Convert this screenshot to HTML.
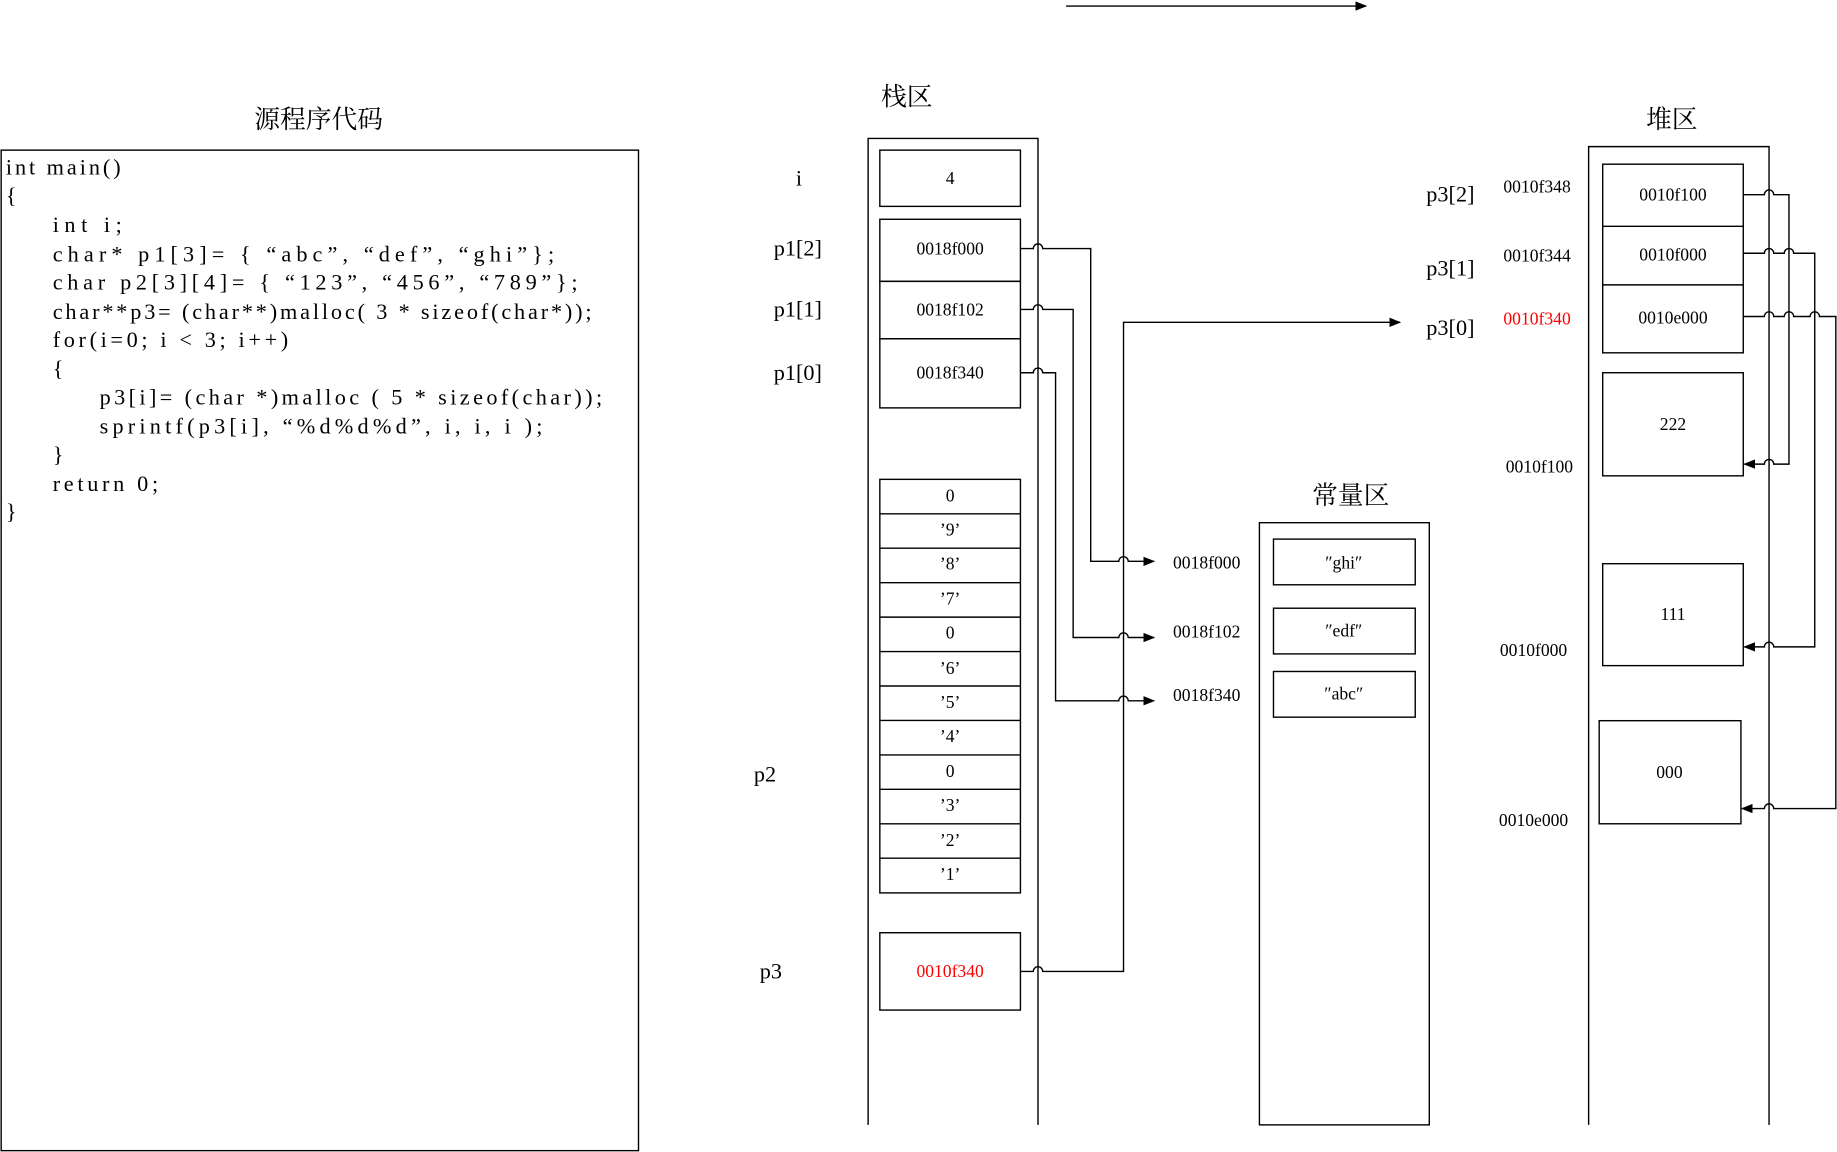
<!DOCTYPE html>
<html><head><meta charset="utf-8"><style>html,body{margin:0;padding:0;background:#fff}svg{display:block}</style></head>
<body>
<svg width="1837" height="1152" viewBox="0 0 1568 983" xmlns="http://www.w3.org/2000/svg" font-family="'Liberation Serif','Noto Serif CJK SC',serif">
<defs><marker id="a" markerWidth="10" markerHeight="8" refX="9" refY="4" orient="auto" markerUnits="userSpaceOnUse"><path d="M0,0 L10,4 L0,8Z" fill="#000"/></marker></defs>
<g fill="none" stroke="#000" stroke-width="1.2">
<line x1="910" y1="5" x2="1166" y2="5" marker-end="url(#a)"/>
<rect x="1" y="128" width="544" height="854"/>
<path d="M741,960 V118 H886 V960"/>
<rect x="751" y="128" width="120" height="48"/>
<rect x="751" y="187" width="120" height="53"/>
<rect x="751" y="240" width="120" height="49"/>
<rect x="751" y="289" width="120" height="59"/>
<rect x="751" y="409" width="120" height="353"/>
<path d="M751,438.4H871M751,467.8H871M751,497.2H871M751,526.6H871M751,556H871M751,585.4H871M751,614.8H871M751,644.2H871M751,673.6H871M751,703H871M751,732.4H871"/>
<rect x="751" y="796" width="120" height="66"/>
<rect x="1075" y="446" width="145" height="514"/>
<rect x="1087" y="460" width="121" height="39"/>
<rect x="1087" y="519" width="121" height="39"/>
<rect x="1087" y="573" width="121" height="39"/>
<path d="M1356,960 V125 H1510 V960"/>
<rect x="1368" y="140" width="120" height="161"/>
<path d="M1368,193H1488M1368,243H1488"/>
<rect x="1368" y="318" width="120" height="88"/>
<rect x="1368" y="481" width="120" height="87"/>
<rect x="1365" y="615" width="121" height="88"/>
<path d="M871,212 H882 a4,4 0 0 1 8,0 H931 V479 H955 a4,4 0 0 1 8,0 H985" marker-end="url(#a)"/>
<path d="M871,264 H882 a4,4 0 0 1 8,0 H916 V544 H955 a4,4 0 0 1 8,0 H985" marker-end="url(#a)"/>
<path d="M871,318 H882 a4,4 0 0 1 8,0 H901 V598 H955 a4,4 0 0 1 8,0 H985" marker-end="url(#a)"/>
<path d="M871,829 H882 a4,4 0 0 1 8,0 H959 V275 H1195" marker-end="url(#a)"/>
<path d="M1488,166 H1506 a4,4 0 0 1 8,0 H1527 V396 H1514 a4,4 0 0 0 -8,0 H1489" marker-end="url(#a)"/>
<path d="M1488,216 H1506 a4,4 0 0 1 8,0 H1523 a4,4 0 0 1 8,0 H1549 V552 H1514 a4,4 0 0 0 -8,0 H1489" marker-end="url(#a)"/>
<path d="M1488,270 H1506 a4,4 0 0 1 8,0 H1523 a4,4 0 0 1 8,0 H1545 a4,4 0 0 1 8,0 H1567 V690 H1514 a4,4 0 0 0 -8,0 H1487" marker-end="url(#a)"/>
</g>
<g font-size="22" text-anchor="middle" fill="#000">
<text x="272" y="109">源程序代码</text>
<text x="774" y="90">栈区</text>
<text x="1153" y="430">常量区</text>
<text x="1427" y="109">堆区</text>
</g>
<g font-size="19" fill="#000" xml:space="preserve" lengthAdjust="spacing">
<text x="5" y="149" textLength="98">int main()</text>
<text x="5" y="173">{</text>
<text x="45" y="198" textLength="59">int i;</text>
<text x="45" y="223" textLength="428">char* p1[3]= { “abc”, “def”, “ghi”};</text>
<text x="45" y="247" textLength="448">char p2[3][4]= { “123”, “456”, “789”};</text>
<text x="45" y="272" textLength="460">char**p3= (char**)malloc( 3 * sizeof(char*));</text>
<text x="45" y="296" textLength="201">for(i=0; i &lt; 3; i++)</text>
<text x="45" y="321">{</text>
<text x="85" y="345" textLength="429">p3[i]= (char *)malloc ( 5 * sizeof(char));</text>
<text x="85" y="370" textLength="378">sprintf(p3[i], “%d%d%d”, i, i, i );</text>
<text x="45" y="394">}</text>
<text x="45" y="419" textLength="90">return 0;</text>
<text x="5" y="443">}</text>
</g>
<g font-size="19" text-anchor="middle" fill="#000">
<text x="682" y="158">i</text>
<text x="681" y="218">p1[2]</text>
<text x="681" y="270">p1[1]</text>
<text x="681" y="324">p1[0]</text>
<text x="653" y="667">p2</text>
<text x="658" y="835">p3</text>
<text x="1238" y="172">p3[2]</text>
<text x="1238" y="235">p3[1]</text>
<text x="1238" y="286">p3[0]</text>
</g>
<g font-size="15" text-anchor="middle" fill="#000">
<text x="811" y="157">4</text>
<text x="811" y="217">0018f000</text>
<text x="811" y="269">0018f102</text>
<text x="811" y="323">0018f340</text>
<text x="811" y="428">0</text><text x="811" y="457">’9’</text><text x="811" y="486">’8’</text><text x="811" y="516">’7’</text>
<text x="811" y="545">0</text><text x="811" y="575">’6’</text><text x="811" y="604">’5’</text><text x="811" y="633">’4’</text>
<text x="811" y="663">0</text><text x="811" y="692">’3’</text><text x="811" y="722">’2’</text><text x="811" y="751">’1’</text>
<text x="811" y="834" fill="#f00">0010f340</text>
<text x="1030" y="485">0018f000</text>
<text x="1030" y="544">0018f102</text>
<text x="1030" y="598">0018f340</text>
<text x="1147" y="485">″ghi″</text>
<text x="1147" y="543">″edf″</text>
<text x="1147" y="597">″abc″</text>
<text x="1428" y="171">0010f100</text>
<text x="1428" y="222">0010f000</text>
<text x="1428" y="276">0010e000</text>
<text x="1428" y="367">222</text>
<text x="1428" y="529">111</text>
<text x="1425" y="664">000</text>
<text x="1312" y="164">0010f348</text>
<text x="1312" y="223">0010f344</text>
<text x="1312" y="277" fill="#f00">0010f340</text>
<text x="1314" y="403">0010f100</text>
<text x="1309" y="560">0010f000</text>
<text x="1309" y="705">0010e000</text>
</g>
</svg>
</body></html>
